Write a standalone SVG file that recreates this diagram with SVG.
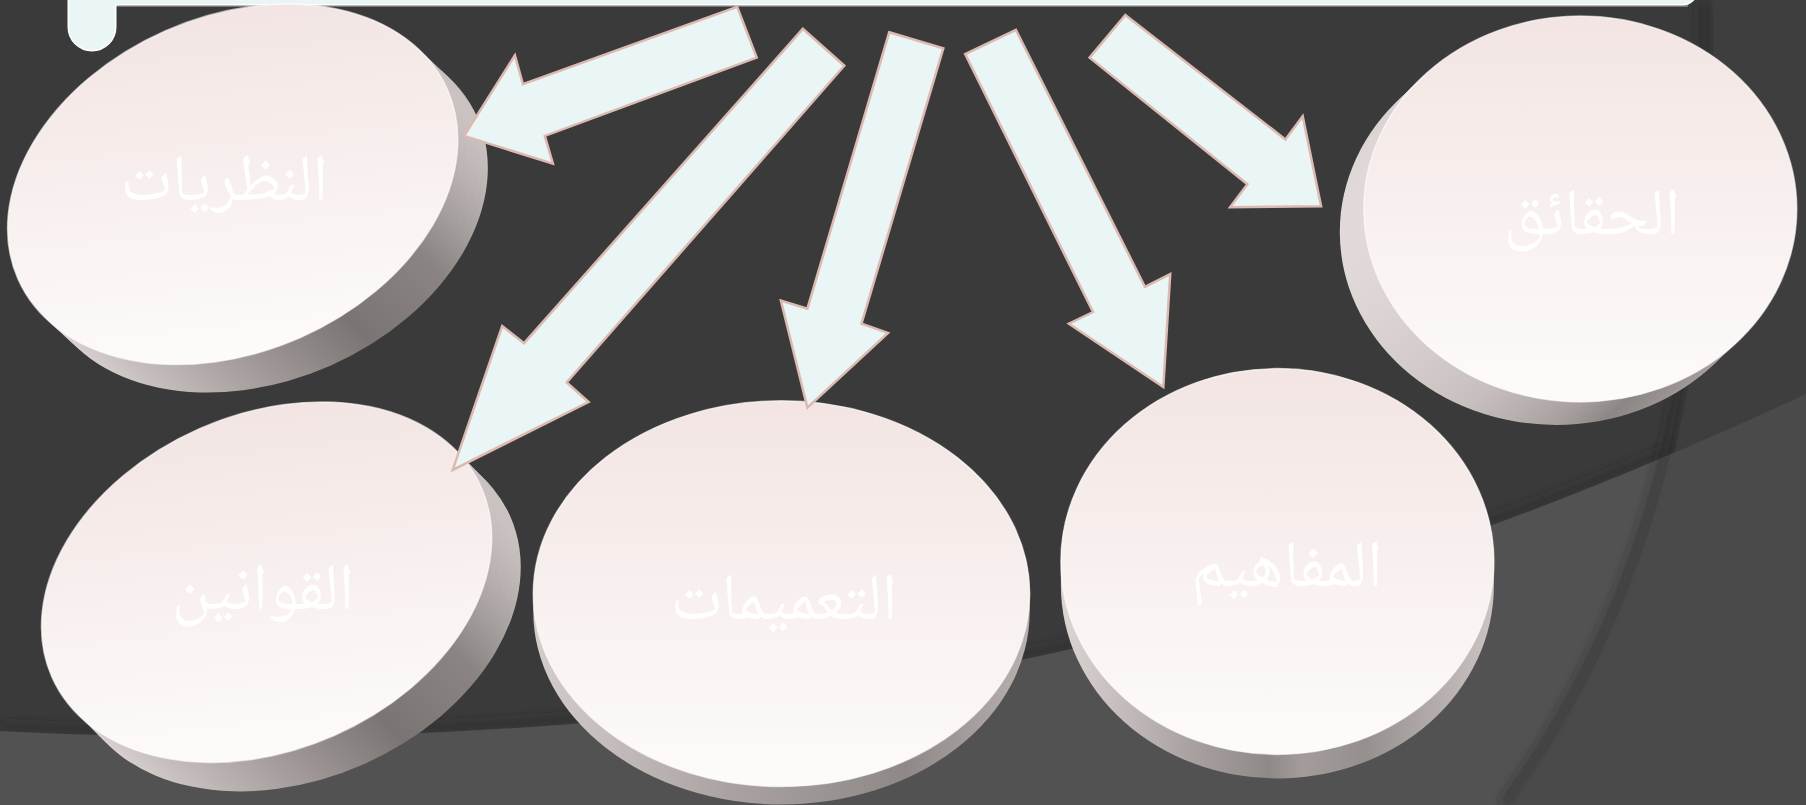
<svg xmlns="http://www.w3.org/2000/svg" width="1806" height="805" viewBox="0 0 1806 805">
<defs>
<style>
.arrow{fill:#eaf6f6;stroke:#dcbab2;stroke-width:2.5;stroke-linejoin:miter}
.face{stroke:#ffffff;stroke-width:1.5;stroke-opacity:0.6}
.label{font-family:'Noto Naskh Arabic','Amiri','Noto Sans Arabic','DejaVu Sans',sans-serif;font-size:66px;fill:#ffffff;text-anchor:middle}
.bar{fill:#eaf6f6}
</style>
<linearGradient id="faceG" x1="0" y1="0" x2="0" y2="1">
<stop offset="0" stop-color="#f2e5e3"/><stop offset="1" stop-color="#fdfbfa"/>
</linearGradient>
<linearGradient id="faceR" x1="0" y1="0" x2="0" y2="1" gradientTransform="rotate(23.8 .5 .5)">
<stop offset="0" stop-color="#f2e5e3"/><stop offset="1" stop-color="#fdfbfa"/>
</linearGradient>
<linearGradient id="sideA" x1="0" y1="0" x2="1" y2="0">
<stop offset="0" stop-color="#ddd5d3"/><stop offset="0.3" stop-color="#aea6a4"/><stop offset="0.6" stop-color="#7a7573"/><stop offset="0.8" stop-color="#8a8482"/><stop offset="1" stop-color="#cbc4c2"/>
</linearGradient>
<linearGradient id="sideC" x1="0" y1="0" x2="1" y2="0">
<stop offset="0" stop-color="#d5cdcb"/><stop offset="0.4" stop-color="#a9a2a0"/><stop offset="0.75" stop-color="#8e8886"/><stop offset="1" stop-color="#b8b1af"/>
</linearGradient>
<linearGradient id="sideD" x1="0" y1="0" x2="1" y2="0">
<stop offset="0" stop-color="#ddd5d3"/><stop offset="0.3" stop-color="#a8a19f"/><stop offset="0.48" stop-color="#8f8987"/><stop offset="0.56" stop-color="#a39c9a"/><stop offset="0.7" stop-color="#958f8d"/><stop offset="1" stop-color="#ccc4c2"/>
</linearGradient>
<linearGradient id="sideE" x1="0" y1="0" x2="1" y2="0">
<stop offset="0" stop-color="#e2dad8"/><stop offset="0.3" stop-color="#c7bfbd"/><stop offset="0.5" stop-color="#a7a09e"/><stop offset="0.62" stop-color="#8c8684"/><stop offset="0.8" stop-color="#a09997"/><stop offset="1" stop-color="#b8b1af"/>
</linearGradient>
<clipPath id="lowClip"><path d="M0,731 C900,776 1450,558 1806,394 L1806,805 L0,805 Z"/></clipPath>
<filter id="blur" x="-20%" y="-20%" width="140%" height="140%"><feGaussianBlur stdDeviation="5"/></filter>
</defs>

<g id="background">
<rect width="1806" height="805" fill="#3a3a3a"/>
<path d="M0,726 C900,771 1450,553 1806,389" fill="none" stroke="#2a2a2a" stroke-width="8" stroke-opacity="0.4" filter="url(#blur)"/>
<path d="M0,731 C900,776 1450,558 1806,394 L1806,805 L0,805 Z" fill="#525252"/>
<path d="M1704,0 C1709,300 1681,560 1504,805" fill="none" stroke="#222222" stroke-width="12" stroke-opacity="0.45" filter="url(#blur)"/>
<path d="M1713,0 C1718,300 1690,560 1513,805 L1806,805 L1806,0 Z" fill="#3e3e3e"/>
<path d="M1713,0 C1718,300 1690,560 1513,805 L1806,805 L1806,0 Z" fill="#4a4a4a" clip-path="url(#lowClip)"/>
</g>

<g id="title-bar">
<line x1="100" y1="6" x2="1688" y2="6" stroke="#8a8a8a" stroke-width="1.5"/>
<rect x="69" y="-40" width="1627" height="44" rx="13" fill="#ffffff" stroke="#ffffff" stroke-width="3"/>
<rect x="69" y="-40" width="46" height="90" rx="23" fill="#ffffff" stroke="#ffffff" stroke-width="3"/>
<rect class="bar" x="69" y="-40" width="1627" height="44" rx="13"/>
<rect class="bar" x="69" y="-40" width="46" height="90" rx="23"/>
</g>

<g id="node-theories">
<g fill="url(#sideA)">
<ellipse transform="translate(262.7 212.3) rotate(-23.8)" rx="234.7" ry="167.6"/>
<ellipse transform="translate(256.7 206.7) rotate(-23.8)" rx="234.7" ry="167.6"/>
<ellipse transform="translate(250.7 201.1) rotate(-23.8)" rx="234.7" ry="167.6"/>
<ellipse transform="translate(244.7 195.5) rotate(-23.8)" rx="234.7" ry="167.6"/>
<ellipse transform="translate(238.7 189.9) rotate(-23.8)" rx="234.7" ry="167.6"/>
</g>
<ellipse class="face" fill="url(#faceR)" transform="translate(232.7 184.3) rotate(-23.8)" rx="234.7" ry="167.6"/>
<text class="label" x="224.6" y="200">النظريات</text>
</g>

<g id="node-laws">
<g fill="url(#sideA)">
<ellipse transform="translate(295.6 611.2) rotate(-23.8)" rx="234.7" ry="167.6"/>
<ellipse transform="translate(289.8 605.4) rotate(-23.8)" rx="234.7" ry="167.6"/>
<ellipse transform="translate(284 599.6) rotate(-23.8)" rx="234.7" ry="167.6"/>
<ellipse transform="translate(278.2 593.8) rotate(-23.8)" rx="234.7" ry="167.6"/>
<ellipse transform="translate(272.4 588) rotate(-23.8)" rx="234.7" ry="167.6"/>
</g>
<ellipse class="face" fill="url(#faceR)" transform="translate(266.6 582.2) rotate(-23.8)" rx="234.7" ry="167.6"/>
<text class="label" x="263" y="609">القوانين</text>
</g>

<g id="node-generalizations">
<path fill="url(#sideC)" d="M533.3,593.7 A248.2,192.9 0 0 1 1029.7,593.7 L1029.7,611.7 A248.2,192.9 0 0 1 533.3,611.7 Z"/>
<ellipse class="face" fill="url(#faceG)" cx="781.5" cy="593.7" rx="248.2" ry="192.9"/>
<text class="label" x="784" y="619">التعميمات</text>
</g>

<g id="node-concepts">
<path fill="url(#sideD)" d="M1060.9,561.5 A216.5,192.9 0 0 1 1493.9,561.5 L1493.9,585.5 A216.5,192.9 0 0 1 1060.9,585.5 Z"/>
<ellipse class="face" fill="url(#faceG)" cx="1277.4" cy="561.5" rx="216.5" ry="192.9"/>
<text class="label" x="1287" y="586">المفاهيم</text>
</g>

<g id="node-facts">
<g fill="url(#sideE)">
<ellipse cx="1556.3" cy="232" rx="216.5" ry="192.9"/>
<ellipse cx="1561.1" cy="227.4" rx="216.5" ry="192.9"/>
<ellipse cx="1565.9" cy="222.8" rx="216.5" ry="192.9"/>
<ellipse cx="1570.7" cy="218.2" rx="216.5" ry="192.9"/>
<ellipse cx="1575.5" cy="213.6" rx="216.5" ry="192.9"/>
</g>
<ellipse class="face" fill="url(#faceG)" cx="1580.3" cy="209" rx="216.5" ry="192.9"/>
<text class="label" x="1592" y="234">الحقائق</text>
</g>

<g id="connectors">
<polygon class="arrow" points="737.2,6.9 756.7,57.6 544.8,135.9 552.9,163.6 464.2,135.9 514.9,55.3 522.9,84.1"/>
<polygon class="arrow" points="802.8,28.8 844.3,65.7 566.7,382.4 588.6,402 452.7,469.9 502.2,326 524.1,343.2"/>
<polygon class="arrow" points="889.2,32.3 943.3,48.4 861.5,323.7 888,332.9 807.4,407.7 780.9,300.6 807.4,308.7"/>
<polygon class="arrow" points="1015.9,29.9 965.2,54.1 1093,312 1068.9,323.7 1163.3,387 1170.2,274.1 1144.9,286.8"/>
<polygon class="arrow" points="1125.3,15 1089.6,57.6 1247.4,184.3 1230.1,207.3 1321.1,206.2 1302.7,116.3 1285.4,139.4"/>
</g>
</svg>
